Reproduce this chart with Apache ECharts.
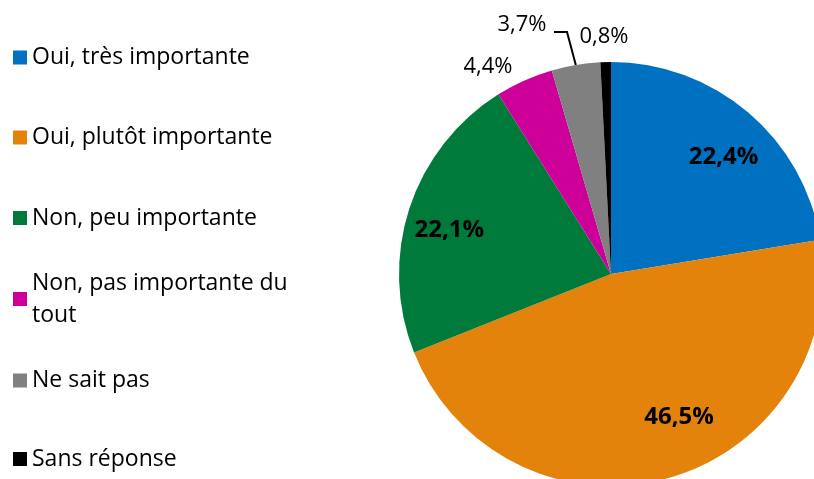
<!DOCTYPE html>
<html><head><meta charset="utf-8">
<script src="https://cdn.jsdelivr.net/npm/echarts@6/dist/echarts.min.js"></script>
<style>html,body{margin:0;padding:0;background:#fff}#c{width:814px;height:479px}</style>
</head><body><div id="c"></div>
<script>
const categories = ["Oui, très importante","Oui, plutôt importante","Non, peu importante","Non, pas importante du tout","Ne sait pas","Sans réponse"];
const values = [22.4, 46.5, 22.1, 4.4, 3.7, 0.8];
const valueLabels = ["22,4%","46,5%","22,1%","4,4%","3,7%","0,8%"];
const colors = ["#0070C0","#E3830C","#007A3A","#CC0099","#808080","#000000"];

const FONT = "Open Sans";
const legendCenters = [57.5, 137.5, 218, 299, 380.5, 459];
const cx = 611, cy = 274, R = 212;

const legends = categories.map((n,i)=>{
  const two = (i===3);
  const LH = two ? 32 : 27;
  const h = two ? LH*3 : LH;
  return {
    left: 13, top: legendCenters[i] - h/2, padding: 0,
    itemWidth: 14, itemHeight: 14, itemGap: 0, selectedMode: false,
    icon: 'rect',
    data: [{name: n, textStyle: two ? {padding:[LH,0,0,0]} : {}}],
    formatter: two ? 'Non, pas importante du\ntout' : '{name}',
    textStyle: {fontFamily: FONT, fontSize: 23, color: '#000', lineHeight: LH}
  };
});

const inside = [true,true,true,false,false,false];
const offsets = [[42,-34],[39,38],[-58,-10]];
const outsideTargets = {3:[488,67],4:[522,25],5:[604,37]};

const chart = echarts.init(document.getElementById('c'), null, {renderer:'canvas'});
chart.setOption({
  animation: false,
  legend: legends,
  series: [{
    type: 'pie',
    center: [cx, cy], radius: [0, R],
    startAngle: 90, clockwise: true,
    avoidLabelOverlap: false,
    emphasis: {disabled: true},
    silent: true,
    itemStyle: {borderWidth: 0},
    data: categories.map((n,i)=>({
      name: n, value: values[i],
      itemStyle: {color: colors[i]},
      label: inside[i] ? {
        show: true, position: 'inside', formatter: valueLabels[i],
        fontFamily: FONT, fontSize: 24, fontWeight: 'bold', color: '#000'
      } : {
        show: true, position: 'outside', formatter: valueLabels[i],
        fontFamily: FONT, fontSize: 22, color: '#000'
      },
      labelLine: {show: i===4, length: 10, length2: 10, lineStyle:{color:'#000', width:2}}
    })),
    labelLayout: function(p){
      const i = p.dataIndex;
      if (inside[i]) return {dx: offsets[i][0], dy: offsets[i][1]};
      const t = outsideTargets[i];
      const res = {x: t[0], y: t[1], align: 'center', verticalAlign: 'middle', hideOverlap: false};
      if (i===4 && p.labelLinePoints) {
        const p0 = p.labelLinePoints[0];
        res.labelLinePoints = [p0, [567, 32], [554, 32]];
      }
      return res;
    }
  }]
});
</script></body></html>
